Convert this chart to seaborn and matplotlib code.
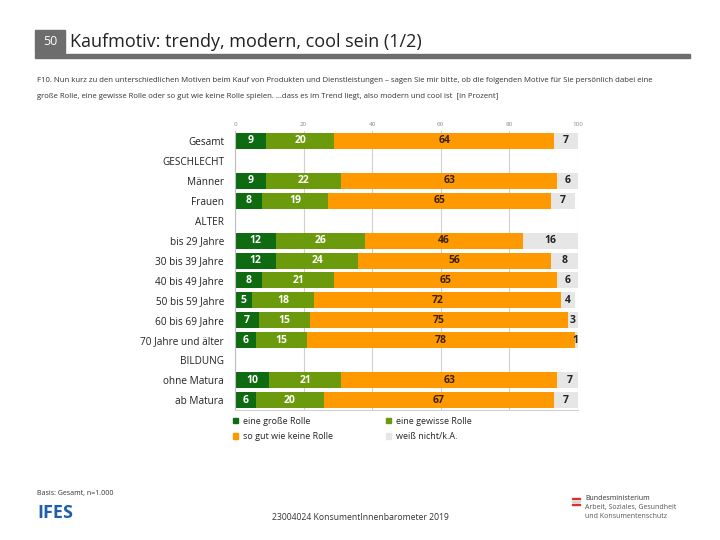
import matplotlib
matplotlib.use("Agg")
import matplotlib.pyplot as plt
from matplotlib.patches import Rectangle, Patch
import seaborn as sns
import pandas as pd
import numpy as np

categories = ["Gesamt", "GESCHLECHT", "Männer", "Frauen", "ALTER", "bis 29 Jahre",
              "30 bis 39 Jahre", "40 bis 49 Jahre", "50 bis 59 Jahre", "60 bis 69 Jahre",
              "70 Jahre und älter", "BILDUNG", "ohne Matura", "ab Matura"]
gross = [9, 0, 9, 8, 0, 12, 12, 8, 5, 7, 6, 0, 10, 6]
gewiss = [20, 0, 22, 19, 0, 26, 24, 21, 18, 15, 15, 0, 21, 20]
keine = [64, 0, 63, 65, 0, 46, 56, 65, 72, 75, 78, 0, 63, 67]
weiss = [7, 0, 6, 7, 0, 16, 8, 6, 4, 3, 1, 0, 7, 7]
headers = ["GESCHLECHT", "ALTER", "BILDUNG"]
series_names = ["eine große Rolle", "eine gewisse Rolle", "so gut wie keine Rolle", "weiß nicht/k.A."]
xticks = [0, 20, 40, 60, 80, 100]

colors = ["#0e6b12", "#6b9a0c", "#ff9900", "#e6e6e6"]
text_colors = ["white", "white", "#3a2200", "#222222"]

sns.set_style("white")
plt.rcParams["font.family"] = ["Open Sans", "DejaVu Sans"]

fig = plt.figure(figsize=(7.2, 5.4), dpi=100)
ax = fig.add_axes([235/720, 1-410/540, 343/720, 279/540])

df = pd.DataFrame({"cat": categories, "g": gross, "w": gewiss, "k": keine, "n": weiss})
df["c1"] = df["g"]
df["c2"] = df["c1"] + df["w"]
df["c3"] = df["c2"] + df["k"]
df["c4"] = df["c3"] + df["n"]

for col, colr in zip(["c4", "c3", "c2", "c1"], colors[::-1]):
    sns.barplot(data=df, y="cat", x=col, order=categories, color=colr, orient="h",
                width=0.8, saturation=1, ax=ax, linewidth=0, errorbar=None)

# labels
for i, row in df.iterrows():
    if row["cat"] in headers:
        continue
    vals = [row["g"], row["w"], row["k"], row["n"]]
    left = 0
    for j, v in enumerate(vals):
        if v > 0:
            xpos = left + v / 2
            if j == 3 and v < 3:
                xpos = 99.3
            ax.text(xpos, i, f"{v}", ha="center", va="center", fontsize=7.5,
                    fontweight="bold", color=text_colors[j])
        left += v

ax.set_xlim(0, 100)
ax.set_ylim(13.5, -0.5)
ax.set_xticks(xticks)
ax.xaxis.tick_top()
ax.tick_params(axis="x", labelsize=4.5, labelcolor="#888888", length=0, pad=3)
ax.tick_params(axis="y", labelsize=7.2, length=0, pad=8, labelcolor="#222222")
ax.set_xlabel("")
ax.set_ylabel("")
ax.grid(axis="x", color="#d0d0d0", linewidth=0.8)
ax.set_axisbelow(True)
for s in ["top", "right"]:
    ax.spines[s].set_visible(False)
ax.spines["left"].set_color("#bfbfbf")
ax.spines["bottom"].set_color("#d0d0d0")
ax.spines["left"].set_linewidth(0.8)
ax.spines["bottom"].set_linewidth(0.8)
ax.set_yticks([1.5, 4.5, 11.5], minor=True)
ax.tick_params(axis="y", which="minor", length=3, color="#bfbfbf", direction="out")

# legend
handles = [Patch(color=colors[0]), Patch(color=colors[2]), Patch(color=colors[1]), Patch(color=colors[3])]
labels = [series_names[0], series_names[2], series_names[1], series_names[3]]
fig.legend(handles, labels, ncol=2, loc="upper left", bbox_to_anchor=(229/720, 1-413/540),
           frameon=False, fontsize=6.5, handlelength=0.6, handleheight=0.6, handletextpad=0.5,
           columnspacing=5.9, labelspacing=0.7, borderaxespad=0)

# title block
fig.patches.append(Rectangle((35/720, 1-53/540), 30/720, 23/540, transform=fig.transFigure,
                             color="#6d6d6d", zorder=2))
fig.text(50/720, 1-42/540, "50", color="white", fontsize=9, ha="center", va="center")
fig.text(70/720, 1-42/540, "Kaufmotiv: trendy, modern, cool sein (1/2)", fontsize=13,
         ha="left", va="center", color="#222222")
fig.patches.append(Rectangle((35/720, 1-58/540), 655/720, 4/540, transform=fig.transFigure,
                             color="#6d6d6d", zorder=2))
fig.text(37/720, 1-80/540,
         "F10. Nun kurz zu den unterschiedlichen Motiven beim Kauf von Produkten und Dienstleistungen – sagen Sie mir bitte, ob die folgenden Motive für Sie persönlich dabei eine",
         fontsize=5.6, ha="left", va="center", color="#333333")
fig.text(37/720, 1-96/540,
         "große Rolle, eine gewisse Rolle oder so gut wie keine Rolle spielen. …dass es im Trend liegt, also modern und cool ist  [in Prozent]",
         fontsize=5.6, ha="left", va="center", color="#333333")

# footer
fig.text(37/720, 1-494/540, "Basis: Gesamt, n=1.000", fontsize=5, ha="left", va="center", color="#333333")
fig.text(37/720, 1-513/540, "IFES", fontsize=13, fontweight="bold", ha="left", va="center", color="#1f5fa8")
fig.text(360/720, 1-518/540, "23004024 KonsumentInnenbarometer 2019", fontsize=6.2, ha="center", va="center", color="#333333")
fig.patches.append(Rectangle((572/720, 1-499/540), 8/720, 1.5/540, transform=fig.transFigure, color="#d9322b"))
fig.patches.append(Rectangle((572/720, 1-502/540), 8/720, 1.5/540, transform=fig.transFigure, color="#d9d9d9"))
fig.patches.append(Rectangle((572/720, 1-505/540), 8/720, 1.5/540, transform=fig.transFigure, color="#d9322b"))
fig.text(585/720, 1-499/540, "Bundesministerium", fontsize=5, ha="left", va="center", color="#333333")
fig.text(585/720, 1-508/540, "Arbeit, Soziales, Gesundheit", fontsize=5, ha="left", va="center", color="#555555")
fig.text(585/720, 1-517/540, "und Konsumentenschutz", fontsize=5, ha="left", va="center", color="#555555")

fig.savefig("out.png", dpi=100)
